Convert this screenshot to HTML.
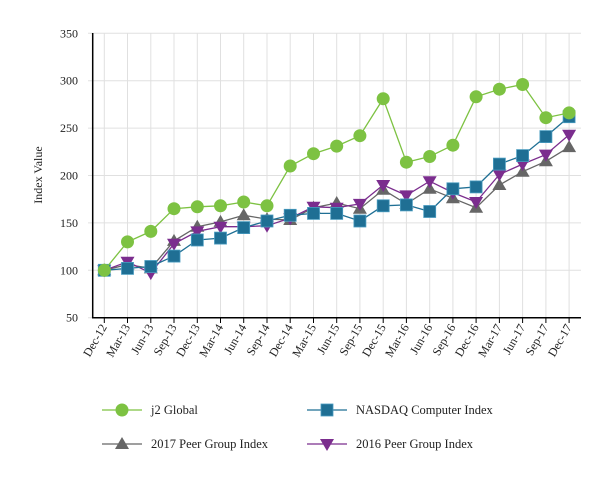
<!DOCTYPE html>
<html><head><style>body{margin:0;background:#fff}svg{display:block;font-family:"Liberation Serif",serif}</style></head><body>
<svg width="614" height="480" xmlns="http://www.w3.org/2000/svg">
<defs>
<marker id="mc" markerUnits="userSpaceOnUse" markerWidth="16" markerHeight="16" refX="8" refY="8" overflow="visible"><circle cx="8" cy="8" r="6.5" fill="#7dc242"/></marker>
<marker id="ms" markerUnits="userSpaceOnUse" markerWidth="16" markerHeight="16" refX="8" refY="8" overflow="visible"><rect x="2" y="2" width="12" height="12" fill="#1f6f94" stroke="#4a9cc0" stroke-width="0.8"/></marker>
<marker id="mt" markerUnits="userSpaceOnUse" markerWidth="16" markerHeight="16" refX="8" refY="8" overflow="visible"><polygon points="8,1 15,13 1,13" fill="#666666"/></marker>
<marker id="mi" markerUnits="userSpaceOnUse" markerWidth="16" markerHeight="16" refX="8" refY="8" overflow="visible"><polygon points="8,15 15,3 1,3" fill="#7b2d8e"/></marker>
</defs>
<g stroke="#e0e0e0">
<line x1="88" x2="581" y1="317.7" y2="317.7"/><line x1="88" x2="581" y1="270.3" y2="270.3"/><line x1="88" x2="581" y1="222.9" y2="222.9"/><line x1="88" x2="581" y1="175.5" y2="175.5"/><line x1="88" x2="581" y1="128.1" y2="128.1"/><line x1="88" x2="581" y1="80.7" y2="80.7"/><line x1="88" x2="581" y1="33.3" y2="33.3"/>
<line x1="104.3" x2="104.3" y1="33" y2="318"/><line x1="127.5" x2="127.5" y1="33" y2="318"/><line x1="150.8" x2="150.8" y1="33" y2="318"/><line x1="174" x2="174" y1="33" y2="318"/><line x1="197.3" x2="197.3" y1="33" y2="318"/><line x1="220.5" x2="220.5" y1="33" y2="318"/><line x1="243.7" x2="243.7" y1="33" y2="318"/><line x1="267" x2="267" y1="33" y2="318"/><line x1="290.2" x2="290.2" y1="33" y2="318"/><line x1="313.5" x2="313.5" y1="33" y2="318"/><line x1="336.7" x2="336.7" y1="33" y2="318"/><line x1="359.9" x2="359.9" y1="33" y2="318"/><line x1="383.2" x2="383.2" y1="33" y2="318"/><line x1="406.4" x2="406.4" y1="33" y2="318"/><line x1="429.7" x2="429.7" y1="33" y2="318"/><line x1="452.9" x2="452.9" y1="33" y2="318"/><line x1="476.1" x2="476.1" y1="33" y2="318"/><line x1="499.4" x2="499.4" y1="33" y2="318"/><line x1="522.6" x2="522.6" y1="33" y2="318"/><line x1="545.9" x2="545.9" y1="33" y2="318"/><line x1="569.1" x2="569.1" y1="33" y2="318"/>
</g>
<g stroke="#000">
<line x1="104.3" x2="104.3" y1="318" y2="323"/><line x1="127.5" x2="127.5" y1="318" y2="323"/><line x1="150.8" x2="150.8" y1="318" y2="323"/><line x1="174" x2="174" y1="318" y2="323"/><line x1="197.3" x2="197.3" y1="318" y2="323"/><line x1="220.5" x2="220.5" y1="318" y2="323"/><line x1="243.7" x2="243.7" y1="318" y2="323"/><line x1="267" x2="267" y1="318" y2="323"/><line x1="290.2" x2="290.2" y1="318" y2="323"/><line x1="313.5" x2="313.5" y1="318" y2="323"/><line x1="336.7" x2="336.7" y1="318" y2="323"/><line x1="359.9" x2="359.9" y1="318" y2="323"/><line x1="383.2" x2="383.2" y1="318" y2="323"/><line x1="406.4" x2="406.4" y1="318" y2="323"/><line x1="429.7" x2="429.7" y1="318" y2="323"/><line x1="452.9" x2="452.9" y1="318" y2="323"/><line x1="476.1" x2="476.1" y1="318" y2="323"/><line x1="499.4" x2="499.4" y1="318" y2="323"/><line x1="522.6" x2="522.6" y1="318" y2="323"/><line x1="545.9" x2="545.9" y1="318" y2="323"/><line x1="569.1" x2="569.1" y1="318" y2="323"/>
<line x1="92.7" x2="92.7" y1="33" y2="318" stroke-width="1.5"/><line x1="92" x2="581" y1="317.7" y2="317.7" stroke-width="1.5"/>
</g>
<g font-size="12" fill="#222" text-anchor="end">
<text x="78" y="321.7">50</text><text x="78" y="274.3">100</text><text x="78" y="226.9">150</text><text x="78" y="179.5">200</text><text x="78" y="132.1">250</text><text x="78" y="84.7">300</text><text x="78" y="37.3">350</text>
<text transform="translate(107.3,327) rotate(-60)">Dec-12</text>
<text transform="translate(130.5,327) rotate(-60)">Mar-13</text>
<text transform="translate(153.8,327) rotate(-60)">Jun-13</text>
<text transform="translate(177,327) rotate(-60)">Sep-13</text>
<text transform="translate(200.3,327) rotate(-60)">Dec-13</text>
<text transform="translate(223.5,327) rotate(-60)">Mar-14</text>
<text transform="translate(246.7,327) rotate(-60)">Jun-14</text>
<text transform="translate(270,327) rotate(-60)">Sep-14</text>
<text transform="translate(293.2,327) rotate(-60)">Dec-14</text>
<text transform="translate(316.5,327) rotate(-60)">Mar-15</text>
<text transform="translate(339.7,327) rotate(-60)">Jun-15</text>
<text transform="translate(362.9,327) rotate(-60)">Sep-15</text>
<text transform="translate(386.2,327) rotate(-60)">Dec-15</text>
<text transform="translate(409.4,327) rotate(-60)">Mar-16</text>
<text transform="translate(432.7,327) rotate(-60)">Jun-16</text>
<text transform="translate(455.9,327) rotate(-60)">Sep-16</text>
<text transform="translate(479.1,327) rotate(-60)">Dec-16</text>
<text transform="translate(502.4,327) rotate(-60)">Mar-17</text>
<text transform="translate(525.6,327) rotate(-60)">Jun-17</text>
<text transform="translate(548.9,327) rotate(-60)">Sep-17</text>
<text transform="translate(572.1,327) rotate(-60)">Dec-17</text>
<text transform="translate(42,175) rotate(-90)" text-anchor="middle">Index Value</text>
</g>
<g fill="none" stroke-width="1.3">
<polyline stroke="#666666" marker-start="url(#mt)" marker-mid="url(#mt)" marker-end="url(#mt)" points="104.3,270.3 127.5,264.6 150.8,268.4 174,240.9 197.3,226.7 220.5,221.9 243.7,215.3 267,219.1 290.2,220 313.5,207.7 336.7,203 359.9,208.7 383.2,189.7 406.4,203.9 429.7,188.8 452.9,198.3 476.1,207.7 499.4,185 522.6,171.7 545.9,161.3 569.1,147.1"/>
<polyline stroke="#7b2d8e" marker-start="url(#mi)" marker-mid="url(#mi)" marker-end="url(#mi)" points="104.3,270.3 127.5,261.8 150.8,273.1 174,243.8 197.3,231.4 220.5,226.7 243.7,226.7 267,225.7 290.2,218.2 313.5,206.8 336.7,207.7 359.9,203.9 383.2,185 406.4,195.4 429.7,181.2 452.9,192.6 476.1,202 499.4,174.5 522.6,164.1 545.9,154.6 569.1,134.7"/>
<polyline stroke="#1f6f94" marker-start="url(#ms)" marker-mid="url(#ms)" marker-end="url(#ms)" points="104.3,270.3 127.5,268.4 150.8,266.5 174,256.1 197.3,240 220.5,238.1 243.7,227.6 267,221 290.2,215.3 313.5,213.4 336.7,213.4 359.9,221 383.2,205.8 406.4,204.9 429.7,211.5 452.9,188.8 476.1,186.9 499.4,164.1 522.6,155.6 545.9,136.6 569.1,116.7"/>
<polyline stroke="#7dc242" marker-start="url(#mc)" marker-mid="url(#mc)" marker-end="url(#mc)" points="104.3,270.3 127.5,241.9 150.8,231.4 174,208.7 197.3,206.8 220.5,205.8 243.7,202 267,205.8 290.2,166 313.5,153.7 336.7,146.1 359.9,135.7 383.2,98.7 406.4,162.2 429.7,156.5 452.9,145.2 476.1,96.8 499.4,89.2 522.6,84.5 545.9,117.7 569.1,112.9"/>
<polyline stroke="#7dc242" marker-mid="url(#mc)" points="102,410 122,410 142,410"/>
<polyline stroke="#1f6f94" marker-mid="url(#ms)" points="307,410 327,410 347,410"/>
<polyline stroke="#666666" marker-mid="url(#mt)" points="102,444 122,444 142,444"/>
<polyline stroke="#7b2d8e" marker-mid="url(#mi)" points="307,444 327,444 347,444"/>
</g>
<g font-size="12.5" fill="#222">
<text x="151" y="414">j2 Global</text><text x="356" y="414">NASDAQ Computer Index</text>
<text x="151" y="448">2017 Peer Group Index</text><text x="356" y="448">2016 Peer Group Index</text>
</g>
</svg>
</body></html>
